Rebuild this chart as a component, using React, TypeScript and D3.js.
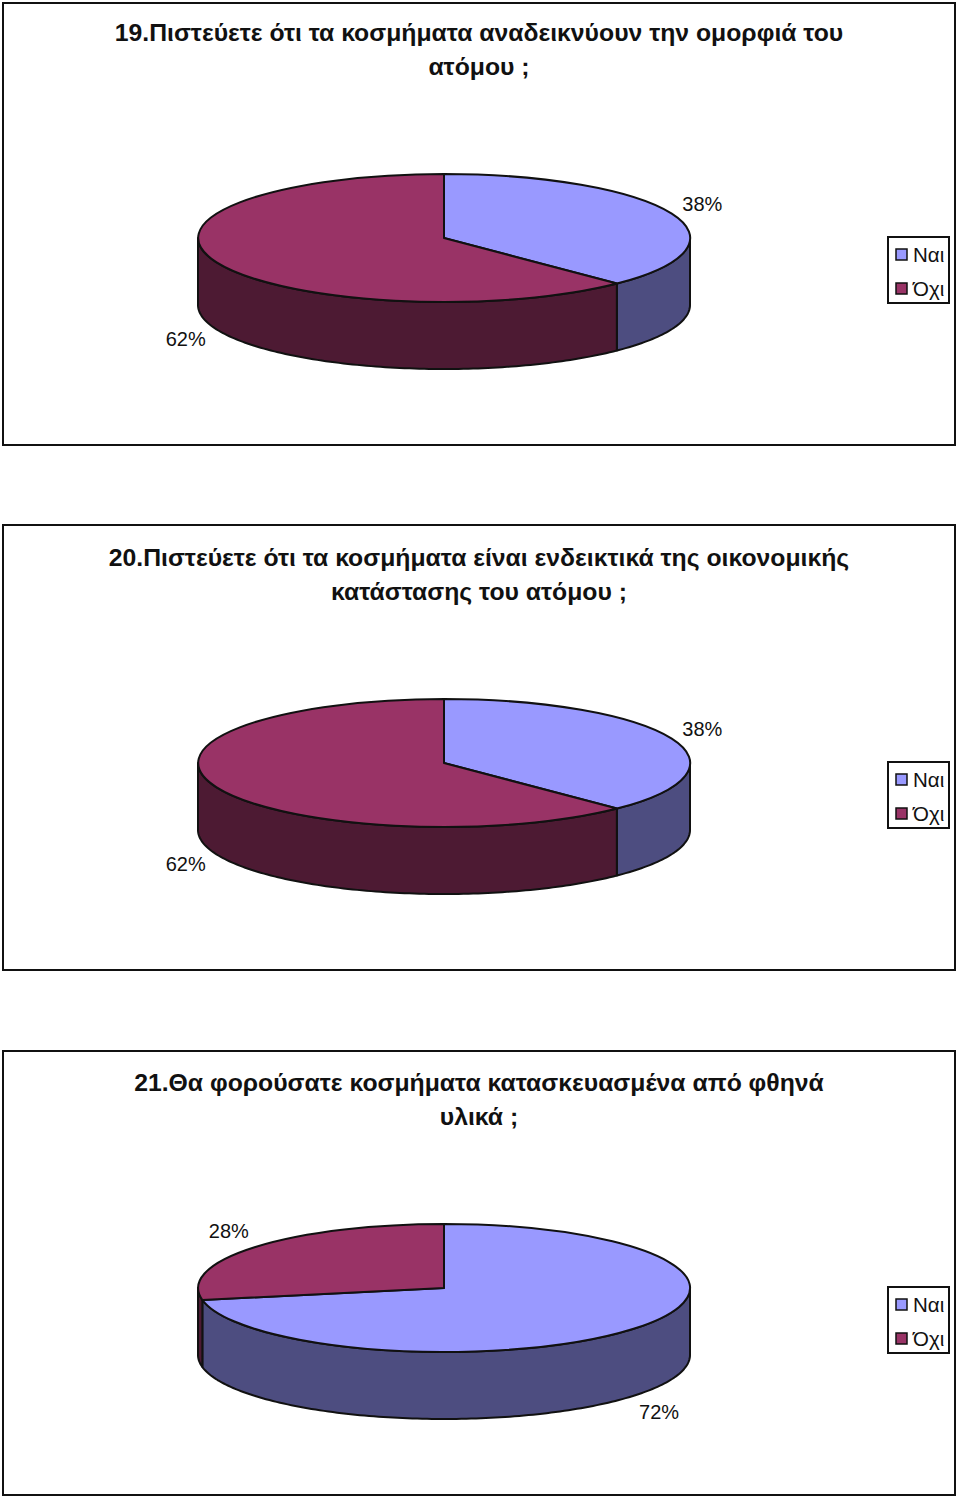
import * as d3 from "d3"

const seriesNames = ["Ναι", "Όχι"]
const titles = [
  ["19.Πιστεύετε ότι τα κοσμήματα αναδεικνύουν την ομορφιά του", "ατόμου ;"],
  ["20.Πιστεύετε ότι τα κοσμήματα είναι ενδεικτικά της οικονομικής", "κατάστασης του ατόμου ;"],
  ["21.Θα φορούσατε κοσμήματα κατασκευασμένα από φθηνά", "υλικά ;"],
]
// labels round these to 38/62 and 72/28
const values = [
  [37.6, 62.4],
  [37.6, 62.4],
  [72, 28],
]

const topColors = ["#9999ff", "#993366"]
const wallColors = ["#4d4d80", "#4d1a33"]
const font = "'Liberation Sans', Arial, sans-serif"
const ink = "#111"

const frames = [
  { y: 3, h: 442 },
  { y: 525, h: 445 },
  { y: 1051, h: 444 },
]
const contentTops = [2, 527, 1052]
const rx = 246
const ry = 64
const depth = 67
const cx = 444
const cy = 236

const pie = d3.pie<number>().sort(null)
const arc = d3.arc<d3.PieArcDatum<number>>().innerRadius(0).outerRadius(1)

// unit angle (0 = top, clockwise) onto the flattened ellipse
const px = (a: number) => cx + rx * Math.sin(a)
const py = (a: number) => cy - ry * Math.cos(a)

function wallPath(start: number, end: number) {
  const a0 = Math.max(start, Math.PI / 2)
  const a1 = Math.min(end, (3 * Math.PI) / 2)
  if (a1 <= a0) return null
  const angles = [...d3.range(a0, a1, 0.02), a1]
  const upper = d3.line<number>().x(px).y(py)([...angles].reverse())!
  const lower = d3
    .line<number>()
    .x(px)
    .y((a) => py(a) + depth)(angles)!
  return `${upper}L${lower.slice(1)}Z`
}

function PieChart({ index }: { index: number }) {
  const arcs = pie(values[index])
  return (
    <g>
      <rect x={3} y={frames[index].y} width={952} height={frames[index].h} fill="#fff" stroke={ink} strokeWidth={2} />

      <g transform={`translate(0, ${contentTops[index]})`}>
        {titles[index].map((t, i) => (
          <text
            key={i}
            x={479}
            y={39 + i * 34}
            textAnchor="middle"
            fontFamily={font}
            fontWeight="bold"
            fontSize={24.75}
            fill={ink}
          >
            {t}
          </text>
        ))}

        {arcs.map((d, i) => {
          const p = wallPath(d.startAngle, d.endAngle)
          return p ? <path key={i} d={p} fill={wallColors[i]} stroke={ink} strokeWidth={2} strokeLinejoin="round" /> : null
        })}

        {arcs.map((d, i) => (
          <path
            key={i}
            d={arc(d)!}
            transform={`translate(${cx}, ${cy}) scale(${rx}, ${ry})`}
            fill={topColors[i]}
            stroke={ink}
            strokeWidth={2}
            strokeLinejoin="round"
            vectorEffect="non-scaling-stroke"
          />
        ))}

        {arcs.map((d, i) => {
          const mid = (d.startAngle + d.endAngle) / 2
          const lx = cx + rx * 1.135 * Math.sin(mid)
          const ly = cy - ry * 1.4 * Math.cos(mid) + (Math.cos(mid) < 0 ? depth : 0)
          return (
            <text key={i} x={lx} y={ly + 7} textAnchor="middle" fontFamily={font} fontSize={20} fill={ink}>
              {Math.round(d.value)}%
            </text>
          )
        })}

        <rect x={888} y={235} width={61} height={66} fill="#fff" stroke={ink} strokeWidth={2} />
        {seriesNames.map((name, i) => (
          <g key={name} transform={`translate(0, ${i * 34})`}>
            <rect x={896} y={247} width={11} height={11} fill={topColors[i]} stroke={ink} strokeWidth={1.5} />
            <text x={913} y={260} fontFamily={font} fontSize={20.5} fill={ink}>
              {name}
            </text>
          </g>
        ))}
      </g>
    </g>
  )
}

export default function App() {
  return (
    <svg width={960} height={1498} style={{ position: "absolute", left: 0, top: 0, background: "#fff" }}>
      {values.map((_, i) => (
        <PieChart key={i} index={i} />
      ))}
    </svg>
  )
}
